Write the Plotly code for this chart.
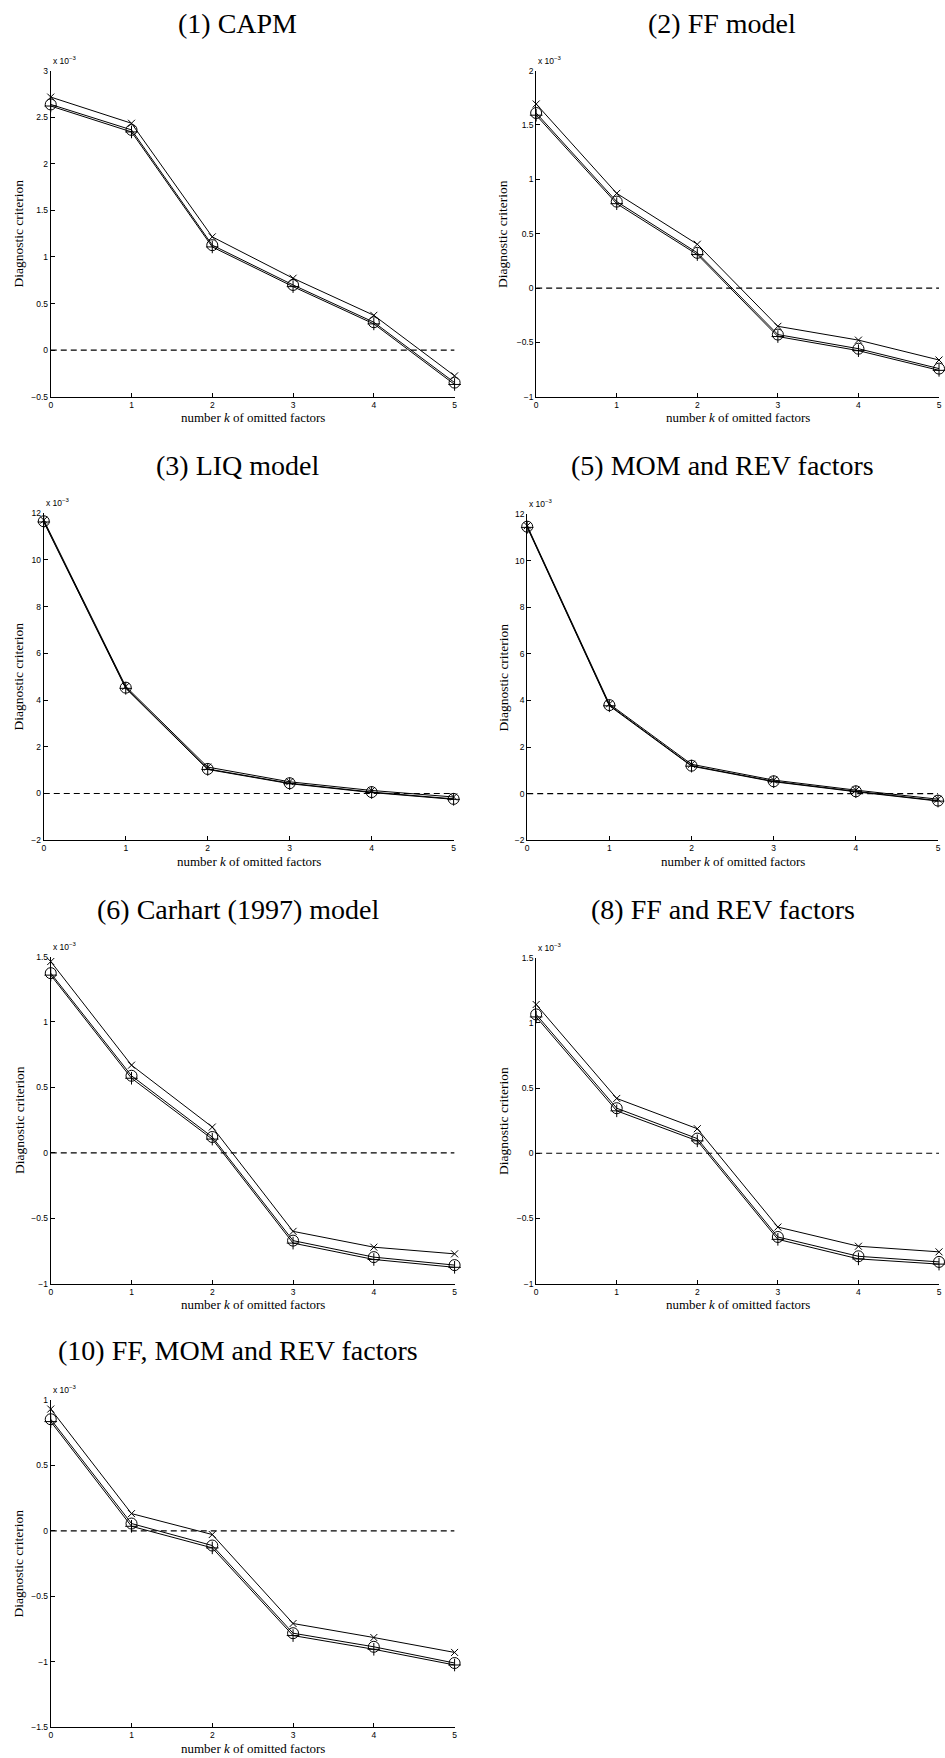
import plotly.graph_objects as go

W, H = 945, 1758

# ---------------- data (values in units of 1e-3) ----------------
k_omitted = [0, 1, 2, 3, 4, 5]

titles = ["(1) CAPM", "(2) FF model", "(3) LIQ model", "(5) MOM and REV factors",
          "(6) Carhart (1997) model", "(8) FF and REV factors",
          "(10) FF, MOM and REV factors"]

capm_x = [2.716, 2.435, 1.216, 0.772, 0.374, -0.276]
capm_o = [2.637, 2.364, 1.127, 0.700, 0.300, -0.348]
capm_p = [2.620, 2.342, 1.108, 0.682, 0.282, -0.368]

ff_x = [1.693, 0.871, 0.403, -0.352, -0.479, -0.662]
ff_o = [1.610, 0.795, 0.324, -0.428, -0.558, -0.741]
ff_p = [1.590, 0.776, 0.308, -0.446, -0.576, -0.757]

liq_x = [11.70, 4.58, 1.13, 0.50, 0.13, -0.15]
liq_o = [11.65, 4.53, 1.05, 0.44, 0.06, -0.23]
liq_p = [11.62, 4.50, 1.03, 0.42, 0.04, -0.25]

momrev_x = [11.50, 3.85, 1.26, 0.58, 0.15, -0.24]
momrev_o = [11.46, 3.80, 1.20, 0.53, 0.10, -0.30]
momrev_p = [11.43, 3.77, 1.18, 0.51, 0.08, -0.32]

carhart_x = [1.462, 0.670, 0.197, -0.600, -0.721, -0.772]
carhart_o = [1.373, 0.589, 0.121, -0.671, -0.797, -0.858]
carhart_p = [1.358, 0.570, 0.105, -0.690, -0.815, -0.875]

ffrev_x = [1.140, 0.420, 0.188, -0.566, -0.713, -0.756]
ffrev_o = [1.064, 0.345, 0.112, -0.642, -0.790, -0.833]
ffrev_p = [1.045, 0.325, 0.095, -0.660, -0.810, -0.850]

ffmomrev_x = [0.931, 0.132, -0.028, -0.708, -0.815, -0.929]
ffmomrev_o = [0.853, 0.056, -0.112, -0.782, -0.886, -1.010]
ffmomrev_p = [0.835, 0.035, -0.130, -0.800, -0.905, -1.025]

y_ranges = [(-0.5, 3), (-1, 2), (-2, 12), (-2, 12), (-1, 1.5), (-1, 1.5), (-1.5, 1)]
y_dticks = [0.5, 0.5, 2, 2, 0.5, 0.5, 0.5]

series = [(capm_x, capm_o, capm_p), (ff_x, ff_o, ff_p), (liq_x, liq_o, liq_p),
          (momrev_x, momrev_o, momrev_p), (carhart_x, carhart_o, carhart_p),
          (ffrev_x, ffrev_o, ffrev_p), (ffmomrev_x, ffmomrev_o, ffmomrev_p)]

# ---------------- layout (pixel boxes: left, right, top, bottom) ----------------
boxes = [(49, 455, 66, 394), (537, 942, 66, 394),
         (42, 454, 511, 840), (528, 941, 512, 840),
         (49, 455, 957, 1286), (537, 942, 958, 1286),
         (49, 455, 1403, 1732)]
title_x = [237, 724, 237, 724, 237, 725, 237]
title_y = [19, 19, 463, 463, 910, 910, 1353]
ytitle_x = [17, 503, 17, 504, 17, 504, 17]

SERIF = "Liberation Serif, Times New Roman, serif"
SANS = "Liberation Sans, Arial, Helvetica, sans-serif"

def px(x):
    return x / W

def py(y):
    return 1 - y / H

fig = go.Figure()
annotations = []
layout = dict(width=W, height=H, margin=dict(l=0, r=0, t=0, b=0),
              paper_bgcolor="white", plot_bgcolor="white", showlegend=False)

line_style = dict(color="black", width=1)
for i, ((sx, so, sp), box, yr, dt) in enumerate(zip(series, boxes, y_ranges, y_dticks)):
    n = i + 1
    xa = "x" if n == 1 else f"x{n}"
    ya = "y" if n == 1 else f"y{n}"
    l, r, t, b = box
    common = dict(showline=True, linecolor="black", linewidth=1, mirror=False,
                  ticks="inside", ticklen=4, tickwidth=1, tickcolor="black",
                  showgrid=False, zeroline=False, ticklabeloverflow="allow",
                  tickfont=dict(family=SANS, size=8.5, color="black"))
    layout["xaxis" if n == 1 else f"xaxis{n}"] = dict(
        domain=[px(l), px(r)], range=[0, 5], dtick=1, tick0=0,
        anchor=ya, **common)
    layout["yaxis" if n == 1 else f"yaxis{n}"] = dict(
        domain=[py(b), py(t)], range=list(yr), dtick=dt, tick0=0,
        anchor=xa, **common)

    # dashed zero line
    fig.add_trace(go.Scatter(x=[k_omitted[0], k_omitted[-1]], y=[0, 0], mode="lines",
                             line=dict(color="black", width=1.2, dash="6px,4px"),
                             xaxis=xa, yaxis=ya, hoverinfo="skip", cliponaxis=False))
    fig.add_trace(go.Scatter(x=k_omitted, y=sp, mode="lines+markers", line=line_style,
                             marker=dict(symbol="cross-thin", size=9,
                                         line=dict(color="black", width=1)),
                             xaxis=xa, yaxis=ya, cliponaxis=False))
    fig.add_trace(go.Scatter(x=k_omitted, y=so, mode="lines+markers", line=line_style,
                             marker=dict(symbol="circle-open", size=11, color="black",
                                         line=dict(color="black", width=1)),
                             xaxis=xa, yaxis=ya, cliponaxis=False))
    fig.add_trace(go.Scatter(x=k_omitted, y=sx, mode="lines+markers", line=line_style,
                             marker=dict(symbol="x-thin", size=7,
                                         line=dict(color="black", width=1)),
                             xaxis=xa, yaxis=ya, cliponaxis=False))

    # panel title
    annotations.append(dict(text=titles[i], x=px(title_x[i]), y=py(title_y[i]),
                            xref="paper", yref="paper", xanchor="center", yanchor="middle",
                            showarrow=False, font=dict(family=SERIF, size=28, color="black")))
    # exponent label
    annotations.append(dict(text="x 10<sup>\u22123</sup>", x=px(l), y=py(t - 3),
                            xref="paper", yref="paper", xanchor="left", yanchor="bottom",
                            showarrow=False, font=dict(family=SANS, size=8.5, color="black")))
    # y title
    annotations.append(dict(text="Diagnostic criterion", x=px(ytitle_x[i]), y=py((t + b) / 2),
                            xref="paper", yref="paper", xanchor="center", yanchor="middle",
                            textangle=-90, showarrow=False,
                            font=dict(family=SERIF, size=13.5, color="black")))
    # x title
    annotations.append(dict(text="number <i>k</i> of omitted factors", x=px((l + r) / 2),
                            y=py(b + 21), xref="paper", yref="paper",
                            xanchor="center", yanchor="middle", showarrow=False,
                            font=dict(family=SERIF, size=13, color="black")))

layout["annotations"] = annotations
fig.update_layout(**layout)
fig.write_html("out.html", config={"displayModeBar": False},
               post_script="document.body.style.margin='0px';")
